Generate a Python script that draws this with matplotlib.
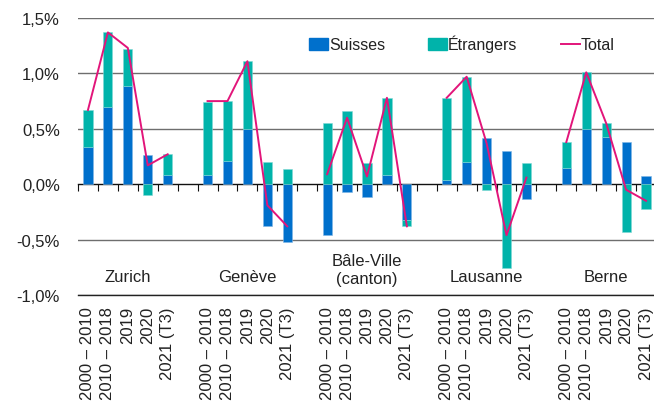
import matplotlib
matplotlib.use("Agg")
import matplotlib.pyplot as plt
from matplotlib.patches import Patch
from matplotlib.lines import Line2D
import numpy as np

plt.rcParams['font.family'] = ['Liberation Sans', 'DejaVu Sans']

cities = ["Zurich", "Genève", "Bâle-Ville\n(canton)", "Lausanne", "Berne"]
periods = ["2000 – 2010", "2010 – 2018", "2019", "2020", "2021 (T3)"]

suisses = [
    [0.34, 0.70, 0.89, 0.26, 0.08],     # Zurich
    [0.08, 0.21, 0.50, -0.38, -0.52],   # Genève
    [-0.46, -0.07, -0.12, 0.08, -0.32], # Bâle-Ville
    [0.04, 0.20, 0.42, 0.30, -0.13],    # Lausanne
    [0.15, 0.50, 0.43, 0.38, 0.07],     # Berne
]
etrangers = [
    [0.33, 0.67, 0.33, -0.10, 0.19],
    [0.66, 0.54, 0.61, 0.20, 0.14],
    [0.55, 0.66, 0.19, 0.70, -0.06],
    [0.74, 0.77, -0.05, -0.76, 0.19],
    [0.23, 0.51, 0.12, -0.43, -0.22],
]
total = [
    [0.67, 1.37, 1.23, 0.17, 0.27],
    [0.75, 0.75, 1.11, -0.19, -0.38],
    [0.09, 0.60, 0.07, 0.78, -0.38],
    [0.78, 0.97, 0.37, -0.46, 0.06],
    [0.38, 1.01, 0.55, -0.05, -0.15],
]
yticks = [-1.0, -0.5, 0.0, 0.5, 1.0, 1.5]

c_ch = "#0070CC"
c_et = "#00B3AA"
c_tot = "#E2157A"
grid_c = "#6e6e6e"
txt_c = "#222222"

W, H = 654, 406
fig = plt.figure(figsize=(W / 100, H / 100), dpi=100)
ax = fig.add_axes([78 / W, (H - 296) / H, (656 - 78) / W, (296 - 19) / H])

nper = len(periods)
slot = nper + 1
xs_all, labels_all = [], []
bw = 0.46
for g, city in enumerate(cities):
    x = np.arange(nper) + g * slot
    s = np.array(suisses[g])
    e = np.array(etrangers[g])
    ax.bar(x, s, width=bw, color=c_ch, edgecolor="#7fb6e6", linewidth=0.4, zorder=3)
    bottom_e = np.where(np.sign(e) == np.sign(s), s, 0.0)
    ax.bar(x, e, bottom=bottom_e, width=bw, color=c_et, edgecolor="#80d8d4", linewidth=0.4, zorder=3)
    ax.plot(x, total[g], color=c_tot, lw=1.4, zorder=4)
    ycity = -0.77 if "\n" in city else -0.83
    ax.text(x[2], ycity, city, ha="center", va="center", fontsize=12, color=txt_c,
            linespacing=1.2)
    xs_all.extend(x)
    labels_all.extend(periods)

ax.set_xlim(-0.5, len(cities) * slot - 1.5)
ax.set_ylim(-1.0, 1.5)

for y in yticks:
    if y != 0:
        ax.axhline(y, color=grid_c, lw=1.0, zorder=1)

ax.set_yticks(yticks)
ax.set_yticklabels([f"{v:.1f}".replace(".", ",") + "%" for v in yticks], fontsize=12, color=txt_c)
ax.tick_params(axis="y", length=0, pad=13)

ax.set_xticks(xs_all)
ax.set_xticklabels(labels_all, rotation=90, fontsize=12, color=txt_c)
ax.tick_params(axis="x", length=0, pad=8)

for sp in ["left", "right", "top"]:
    ax.spines[sp].set_visible(False)
ax.spines["bottom"].set_color(txt_c)
ax.spines["bottom"].set_linewidth(1.0)

# zero axis with tick marks between categories
sec = ax.secondary_xaxis(1.0 / 2.5)
sec.spines["bottom"].set_color("#111111")
sec.spines["bottom"].set_linewidth(1.0)
bounds = np.arange(-0.5, len(cities) * slot - 1.5, 1.0)
sec.set_xticks(bounds)
sec.set_xticklabels([])
sec.tick_params(axis="x", direction="out", length=5, width=0.8, color="#111111")

handles = [Patch(color=c_ch), Patch(color=c_et), Line2D([0], [0], color=c_tot, lw=1.4)]
leg = ax.legend(handles, ["Suisses", "Étrangers", "Total"], loc="upper left",
                bbox_to_anchor=(0.38, 0.98), ncol=3, frameon=False, fontsize=11.5,
                handlelength=1.2, handleheight=0.75, handletextpad=0.05, columnspacing=2.7,
                borderpad=0.2)
for t in leg.get_texts():
    t.set_color(txt_c)

fig.savefig("out.png", dpi=100)
